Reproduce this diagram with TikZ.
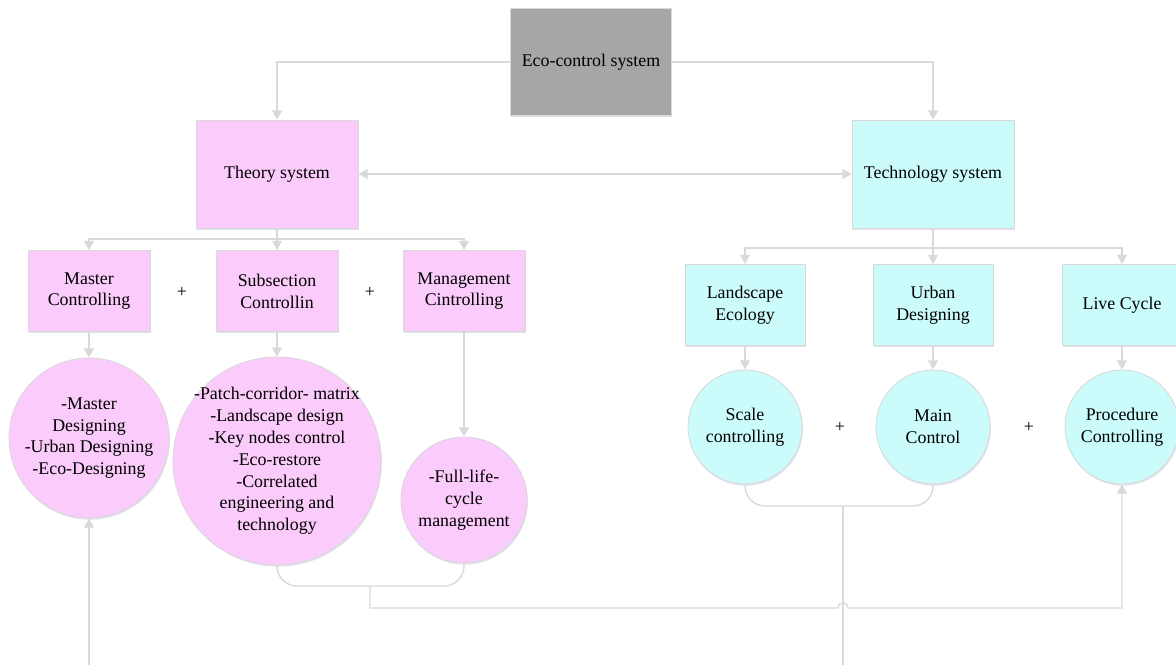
\documentclass[tikz,border=0pt]{standalone}
\usepackage{fontspec}
\setmainfont{Liberation Serif}
\usetikzlibrary{arrows.meta,shadows}

\definecolor{linegray}{HTML}{D9D9D9}
\definecolor{ecogray}{HTML}{A6A6A6}
\definecolor{theorypink}{HTML}{FBCBFB}
\definecolor{techcyan}{HTML}{CBFBFB}

\tikzset{
    block/.style={draw=linegray, line width=0.6pt, align=center, inner sep=2pt,
        font=\fontsize{12.7}{15.5}\selectfont,
        drop shadow={shadow xshift=0.6pt, shadow yshift=-1.2pt, fill=blue!25!gray!40, opacity=0.45}},
    ecobox/.style={block, fill=ecogray, minimum width=4.03cm, minimum height=2.68cm},
    sysbox/.style={block, minimum width=4.05cm, minimum height=2.7cm},
    subbox/.style={block, minimum width=3.05cm, minimum height=2.03cm},
    bubble/.style={block, circle, inner sep=0pt},
    bubbletext/.style={align=center, inner sep=0pt, font=\fontsize{12.7}{15.5}\selectfont},
    conn/.style={draw=linegray, line width=1pt},
    arr/.style={conn, -{Triangle[length=6.5pt,width=7pt]}},
    plus/.style={font=\fontsize{12.7}{15.5}\selectfont}
}

\begin{document}
\begin{tikzpicture}[x=0.025cm, y=-0.025cm]
    \useasboundingbox (0,0) rectangle (1176,665);

    % top level
    \node[ecobox] (eco) at (591,62) {Eco-control system};
    \node[sysbox, fill=theorypink] (theory) at (277,174) {Theory system};
    \node[sysbox, fill=techcyan] (tech) at (933,174) {Technology system};

    \draw[arr] (eco.west) -| (theory.north);
    \draw[arr] (eco.east) -| (tech.north);
    \draw[conn, {Triangle[length=6.5pt,width=7pt]}-{Triangle[length=6.5pt,width=7pt]}] (theory.east) -- (tech.west);

    % theory branch
    \node[subbox, fill=theorypink] (master) at (89,291) {Master\\Controlling};
    \node[subbox, fill=theorypink] (subsec) at (277,291) {Subsection\\Controllin};
    \node[subbox, fill=theorypink] (manage) at (464,291) {Management\\Cintrolling};
    \node[plus] (plusa) at (182,292) {+};
    \node[plus] (plusb) at (370,292) {+};

    \coordinate (tbus) at (277,239);
    \draw[conn] (theory.south) -- (tbus);
    \draw[arr] (tbus) -| (master.north);
    \draw[arr] (tbus) -- (subsec.north);
    \draw[arr] (tbus) -| (manage.north);

    \node[bubble, fill=theorypink, minimum size=4cm] (mcirc) at (89,438) {};
    \node[bubbletext] (mtext) at (mcirc) {-Master\\Designing\\-Urban Designing\\-Eco-Designing};
    \node[bubble, fill=theorypink, minimum size=5.2cm] (scirc) at (277,461) {};
    \node[bubbletext] (stext) at (scirc)
        {-Patch-corridor- matrix\\-Landscape design\\-Key nodes control\\-Eco-restore\\-Correlated\\engineering and\\technology};
    \node[bubble, fill=theorypink, minimum size=3.15cm] (gcirc) at (464,500) {};
    \node[bubbletext] (gtext) at (gcirc) {-Full-life-\\cycle\\management};

    \draw[arr] (master.south) -- (mcirc.north);
    \draw[arr] (subsec.south) -- (scirc.north);
    \draw[arr] (manage.south) -- (gcirc.north);

    % technology branch
    \node[subbox, fill=techcyan, minimum width=3cm] (landsc) at (745,305) {Landscape\\Ecology};
    \node[subbox, fill=techcyan, minimum width=3cm] (urban) at (933,305) {Urban\\Designing};
    \node[subbox, fill=techcyan, minimum width=3cm] (cycle) at (1122,305) {Live Cycle};
    \node[plus] (plusc) at (840,427) {+};
    \node[plus] (plusd) at (1029,427) {+};

    \coordinate (ubus) at (933,248);
    \draw[conn] (tech.south) -- (ubus);
    \draw[arr] (ubus) -| (landsc.north);
    \draw[arr] (ubus) -- (urban.north);
    \draw[arr] (ubus) -| (cycle.north);

    \node[bubble, fill=techcyan, minimum size=2.85cm] (lcirc) at (745,427) {Scale\\controlling};
    \node[bubble, fill=techcyan, minimum size=2.85cm] (ucirc) at (933,427) {Main\\Control};
    \node[bubble, fill=techcyan, minimum size=2.85cm] (pcirc) at (1122,427) {Procedure\\Controlling};

    \draw[arr] (landsc.south) -- (lcirc.north);
    \draw[arr] (urban.south) -- (ucirc.north);
    \draw[arr] (cycle.south) -- (pcirc.north);

    % bottom links
    \coordinate (tjoin) at (370,586);
    \coordinate (ujoin) at (843,506);
    \coordinate (hop) at (843,608);
    \coordinate (uend) at (843,665);
    \coordinate (mstart) at (89,665);

    \draw[conn, rounded corners=0.5cm] (scirc.south) |- (tjoin) -| (gcirc.south);
    \draw[conn, rounded corners=0.5cm] (lcirc.south) |- (ujoin) -| (ucirc.south);
    \draw[conn] (ujoin) -- (uend);
    \draw[arr] (tjoin) |- ([xshift=-0.13cm]hop) arc[start angle=180, end angle=0, radius=0.13cm] -| (pcirc.south);
    \draw[arr] (mstart) -- (mcirc.south);
\end{tikzpicture}
\end{document}
